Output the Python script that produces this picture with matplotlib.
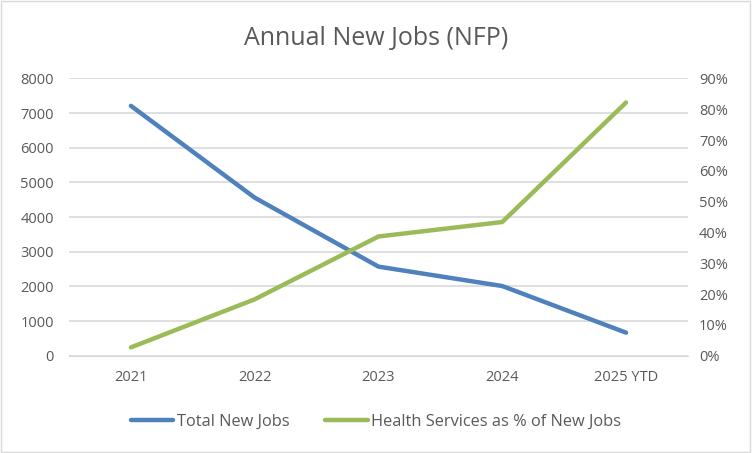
import numpy as np
import matplotlib.pyplot as plt
from matplotlib.ticker import FuncFormatter

years = ['2021', '2022', '2023', '2024', '2025 YTD']
total_jobs = [7210, 4560, 2570, 2010, 665]
health_pct = [2.7, 18.3, 38.7, 43.4, 82.2]

blue = '#4F81BD'
green = '#9BBB59'
grey = '#595959'

plt.rcParams['font.family'] = ['Open Sans', 'DejaVu Sans']

fig = plt.figure(figsize=(7.52, 4.53), dpi=100)
ax = fig.add_axes([0.0918, 0.2148, 0.823, 0.612])
ax2 = ax.twinx()

x = np.arange(len(years))
l1, = ax.plot(x, total_jobs, color=blue, lw=3.2, solid_capstyle='round',
              solid_joinstyle='round', label='Total New Jobs')
l2, = ax2.plot(x, health_pct, color=green, lw=3.2, solid_capstyle='round',
               solid_joinstyle='round', label='Health Services as % of New Jobs')

ax.set_xlim(-0.5, len(years) - 0.5)
ax.set_ylim(0, 8000)
ax.set_yticks(range(0, 8001, 1000))
ax2.set_ylim(0, 90)
ax2.set_yticks(range(0, 91, 10))
ax2.yaxis.set_major_formatter(FuncFormatter(lambda v, p: '%d%%' % v))
ax.set_xticks(x)
ax.set_xticklabels(years)

ax.grid(axis='y', color='#D9D9D9', lw=1.2)
ax.set_axisbelow(True)
for a in (ax, ax2):
    for s in a.spines.values():
        s.set_visible(False)
    a.tick_params(length=0, labelsize=10.5, labelcolor=grey)
ax.spines['bottom'].set_visible(True)
ax.spines['bottom'].set_color('#D9D9D9')
ax.tick_params(axis='x', pad=10)
ax.tick_params(axis='y', pad=11)
ax2.tick_params(axis='y', pad=8)

fig.text(0.5, 0.916, 'Annual New Jobs (NFP)', ha='center', va='center',
         fontsize=18, color=grey)
fig.legend(handles=[l1, l2], loc='center', bbox_to_anchor=(0.5, 0.068), ncol=2,
           frameon=False, fontsize=11.8, labelcolor=grey, handlelength=2.6,
           handletextpad=0.2, columnspacing=2.2)

fig.patches.append(plt.Rectangle((0.001, 0.002), 0.997, 0.995, transform=fig.transFigure,
                                 fill=False, edgecolor='#D9D9D9', lw=1))

fig.savefig('out.png', dpi=100)
